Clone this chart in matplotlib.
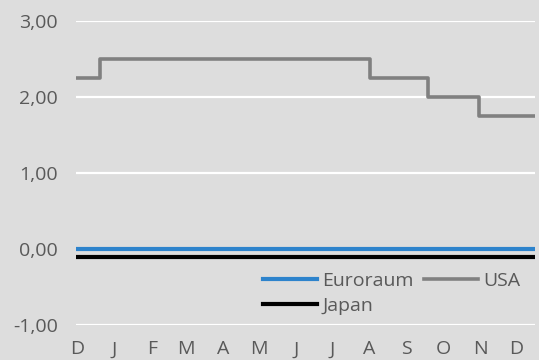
import numpy as np
import pandas as pd
import matplotlib
matplotlib.use("Agg")
import matplotlib.pyplot as plt

plt.rcParams['font.family'] = ['Open Sans', 'DejaVu Sans']

# Leitzinsen (Änderungsdaten und Sätze)
start_date = '2018-11-30'
end_date = '2019-12-17'
usa_dates = ['2018-11-30', '2018-12-20', '2019-08-01', '2019-09-19', '2019-10-31', '2019-12-17']
usa_rates = [2.25, 2.50, 2.25, 2.00, 1.75, 1.75]
euro_dates = [start_date, end_date]
euro_rates = [0.00, 0.00]
japan_dates = [start_date, end_date]
japan_rates = [-0.10, -0.10]

month_starts = pd.date_range('2018-12-01', '2019-12-01', freq='MS')
month_labels = ['D', 'J', 'F', 'M', 'A', 'M', 'J', 'J', 'A', 'S', 'O', 'N', 'D']
y_ticks = [-1, 0, 1, 2, 3]

bg = '#dddddd'
txt = '#595959'

fig = plt.figure(figsize=(5.39, 3.60), dpi=100, facecolor=bg)
ax = fig.add_axes([0.141, 0.0972, 0.8525, 0.8445])
ax.set_facecolor(bg)

h_eu, = ax.step(pd.to_datetime(euro_dates), euro_rates, where='post', color='#2d83cc', lw=3, label='Euroraum', zorder=4)
h_us, = ax.step(pd.to_datetime(usa_dates), usa_rates, where='post', color='#808080', lw=2.6, label='USA', zorder=3)
h_jp, = ax.step(pd.to_datetime(japan_dates), japan_rates, where='post', color='#000000', lw=3, label='Japan', zorder=3)

ax.set_xlim(pd.Timestamp(start_date), pd.Timestamp(end_date))
ax.set_ylim(-1, 3)
ax.set_yticks(y_ticks)
ax.set_yticklabels([f'{v:.2f}'.replace('.', ',') for v in y_ticks])
ax.set_xticks(month_starts)
ax.set_xticklabels(month_labels)

ax.grid(axis='y', color='white', lw=1.6, zorder=1)
ax.grid(axis='x', visible=False)
for s in ax.spines.values():
    s.set_visible(False)
ax.tick_params(length=0, labelsize=14, colors=txt)
ax.tick_params(axis='y', pad=13)
ax.tick_params(axis='x', pad=11)

# Reihenfolge so, dass Zeile 1 = Euroraum, USA; Zeile 2 = Japan
leg = fig.legend([h_eu, h_jp, h_us], ['Euroraum', 'Japan', 'USA'],
                 loc='upper left', bbox_to_anchor=(263 / 539, 1 - 272 / 360), ncol=2,
                 frameon=False, fontsize=14, handlelength=2.8, handletextpad=0.25,
                 columnspacing=0.5, labelspacing=0.35, borderpad=0, borderaxespad=0)
for t in leg.get_texts():
    t.set_color(txt)

fig.savefig('out.png', dpi=100, facecolor=bg)
